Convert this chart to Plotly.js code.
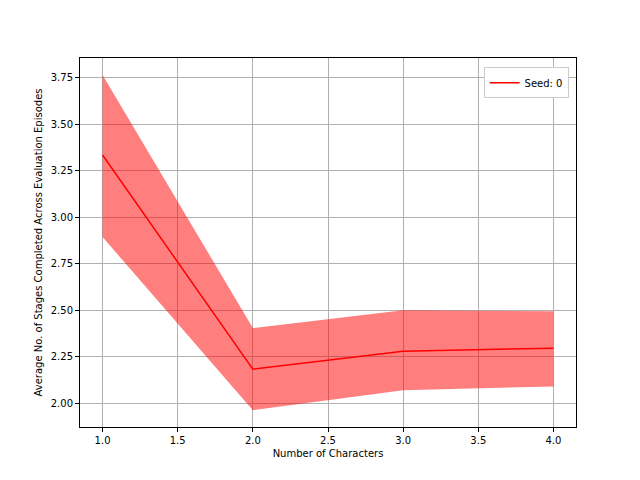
<!DOCTYPE html>
<html>
<head>
<script src="https://cdn.plot.ly/plotly-3.0.1.min.js"></script>
<style>body{margin:0}</style>
</head>
<body>
<div id="chart" style="width:640px;height:480px"></div>
<script>
const characters = [1, 2, 3, 4];
const meanStages = [3.335, 2.183, 2.28, 2.296];
const upperStages = [3.766, 2.404, 2.50, 2.495];
const lowerStages = [2.894, 1.962, 2.07, 2.09];

const traces = [
  {
    x: characters.concat(characters.slice().reverse()),
    y: upperStages.concat(lowerStages.slice().reverse()),
    fill: 'toself',
    fillcolor: 'rgba(255,0,0,0.5)',
    line: { width: 0 },
    mode: 'lines',
    hoverinfo: 'skip',
    showlegend: false
  },
  {
    x: characters,
    y: meanStages,
    mode: 'lines',
    name: 'Seed: 0',
    line: { color: 'red', width: 1.5 }
  }
];

const axisStyle = {
  showline: true, mirror: true, linecolor: 'black', linewidth: 1,
  ticks: 'outside', ticklen: 4, tickcolor: 'black',
  showgrid: true, gridcolor: '#b0b0b0', gridwidth: 1, zeroline: false,
  tickfont: { family: 'DejaVu Sans', size: 10, color: 'black' }
};

Plotly.newPlot('chart', traces, {
  width: 640, height: 480,
  margin: { l: 80, r: 64, t: 58, b: 53 },
  paper_bgcolor: 'white', plot_bgcolor: 'white',
  font: { family: 'DejaVu Sans', size: 10, color: 'black' },
  xaxis: Object.assign({}, axisStyle, {
    range: [0.85, 4.15], dtick: 0.5, tickformat: '.1f',
    title: { text: 'Number of Characters', font: { size: 10 }, standoff: 4 }
  }),
  yaxis: Object.assign({}, axisStyle, {
    range: [1.872, 3.857], dtick: 0.25, tickformat: '.2f',
    title: { text: 'Average No. of Stages Completed Across Evaluation Episodes', font: { size: 10 }, standoff: 6 }
  }),
  legend: {
    x: 0.985, y: 0.975, xanchor: 'right', yanchor: 'top',
    bordercolor: '#cccccc', borderwidth: 1, bgcolor: 'white',
    font: { size: 10 }
  },
  showlegend: true
}, { displayModeBar: false });
</script>
</body>
</html>
